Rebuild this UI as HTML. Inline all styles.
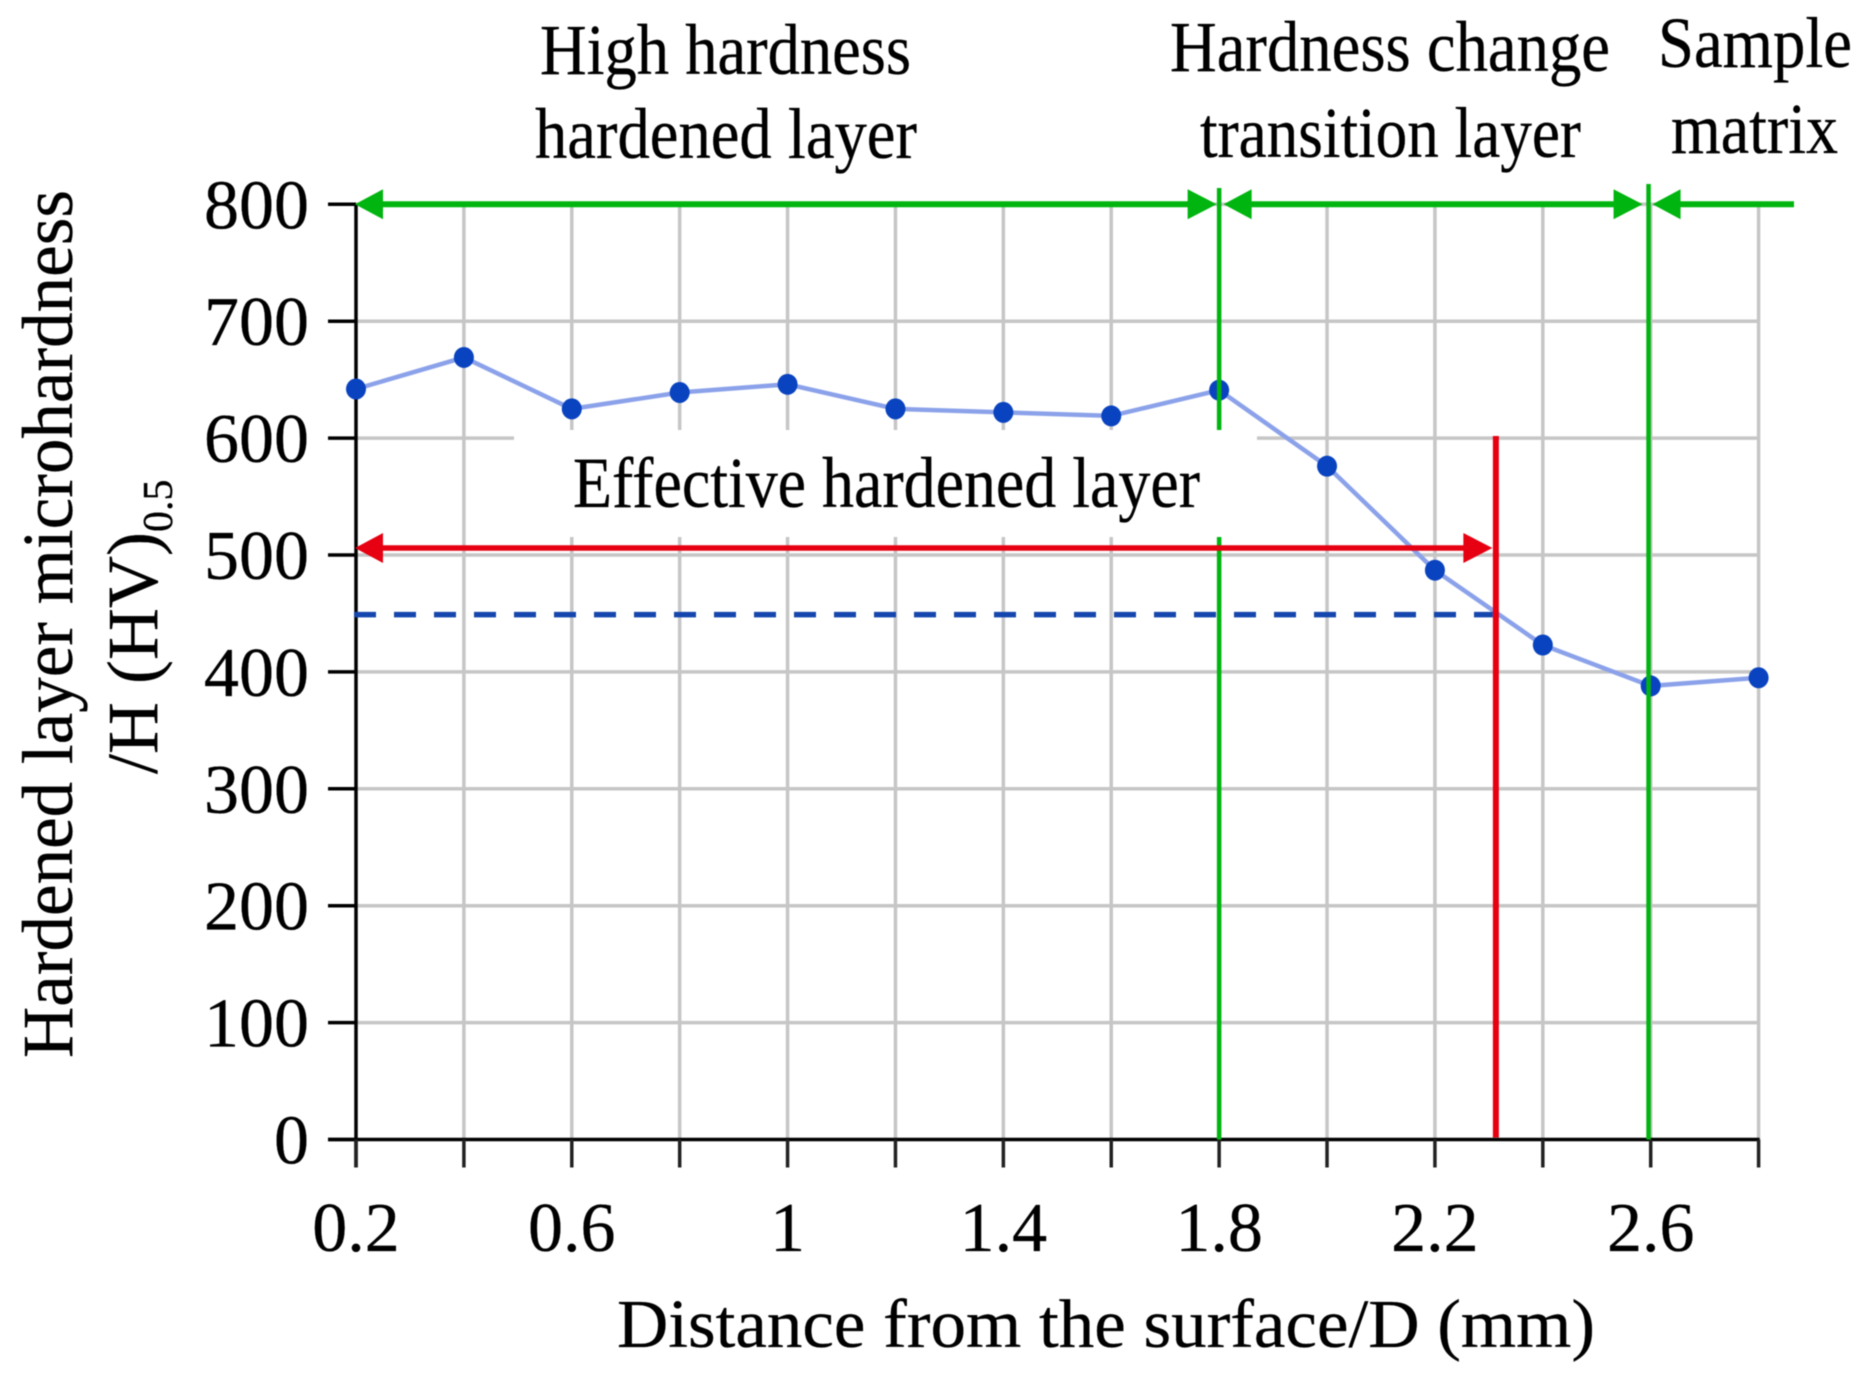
<!DOCTYPE html>
<html lang="en">
<head>
<meta charset="utf-8">
<title>Hardened layer microhardness</title>
<style>
html,body{margin:0;padding:0;background:#fff;width:1873px;height:1382px;overflow:hidden}
svg{display:block;filter:blur(0.6px)}
text{font-family:"Liberation Serif",serif;fill:#000;stroke:#000;stroke-width:0.3px}
</style>
</head>
<body>
<svg id="chart" xmlns="http://www.w3.org/2000/svg" width="1873" height="1382" viewBox="0 0 1873 1382">
  <rect x="0" y="0" width="1873" height="1382" fill="#fff"/>
  <g id="grid"></g>
  <rect x="514" y="430" width="743" height="107" fill="#fff"/>
  <g id="axes"></g>
  <g id="series"></g>
  <g id="annotations"></g>

  <text x="540" y="74" font-size="72" textLength="371" lengthAdjust="spacingAndGlyphs">High hardness</text>
  <text x="535" y="158" font-size="72" textLength="382" lengthAdjust="spacingAndGlyphs">hardened layer</text>
  <text x="1170" y="71" font-size="72" textLength="440" lengthAdjust="spacingAndGlyphs">Hardness change</text>
  <text x="1200" y="157" font-size="72" textLength="381" lengthAdjust="spacingAndGlyphs">transition layer</text>
  <text x="1658" y="67" font-size="72" textLength="194" lengthAdjust="spacingAndGlyphs">Sample</text>
  <text x="1671" y="153" font-size="72" textLength="167" lengthAdjust="spacingAndGlyphs">matrix</text>
  <text x="573" y="507" font-size="72" textLength="627" lengthAdjust="spacingAndGlyphs">Effective hardened layer</text>

  <text x="617" y="1347" font-size="69" textLength="978" lengthAdjust="spacingAndGlyphs">Distance from the surface/D (mm)</text>
  <text transform="translate(72,1058) rotate(-90)" font-size="72" textLength="868" lengthAdjust="spacingAndGlyphs">Hardened layer microhardness</text>
  <text transform="translate(157,774) rotate(-90)" font-size="72">/H (HV)<tspan font-size="42" dy="15">0.5</tspan></text>
</svg>
<script>
// Chart data
const distances = [0.2, 0.4, 0.6, 0.8, 1.0, 1.2, 1.4, 1.6, 1.8, 2.0, 2.2, 2.4, 2.6, 2.8];
const hardness = [642, 669, 625, 639, 646, 625, 622, 619, 641, 576, 487, 423, 388, 395];
const yTicks = [0, 100, 200, 300, 400, 500, 600, 700, 800];
const xTickLabels = ["0.2", "0.6", "1", "1.4", "1.8", "2.2", "2.6"];
const xTickLabelValues = [0.2, 0.6, 1.0, 1.4, 1.8, 2.2, 2.6];
const zoneBoundaries = [1.8, 2.596];
const effectiveDepth = [2.313];
const effectiveArrowHardness = [506];
const criterionHardness = [449];
const zoneArrowHardness = [800];

const NS = "http://www.w3.org/2000/svg";
const xMin = 0.2, xMax = 2.8, yMin = 0, yMax = 800;
const left = 356, right = 1758.6, top_ = 204.3, bottom = 1139.5;
function xScale(v) { return left + (v - xMin) / (xMax - xMin) * (right - left); }
function yScale(v) { return bottom - (v - yMin) / (yMax - yMin) * (bottom - top_); }
function make(tag, attrs, parent) {
  const el = document.createElementNS(NS, tag);
  for (const k in attrs) el.setAttribute(k, attrs[k]);
  parent.appendChild(el);
  return el;
}
const grid = document.getElementById("grid");
const axes = document.getElementById("axes");
const series = document.getElementById("series");
const ann = document.getElementById("annotations");
const GRID = "#c6c6c6", GREEN = "#00b50f", RED = "#e60012";

// Gridlines
distances.slice(1).forEach(function (d) {
  const el = make("line", { x1: xScale(d), x2: xScale(d), y1: yScale(yMax), y2: bottom, stroke: GRID, "stroke-width": 3.5 }, grid);
  
  
});
yTicks.slice(1).forEach(function (t) {
  const el = make("line", { x1: left, x2: right, y1: yScale(t), y2: yScale(t), stroke: GRID, "stroke-width": 3.5 }, grid);
  
  
});

// Axes and ticks
const yAxisLine = make("line", { x1: left, x2: left, y1: yScale(yMax), y2: 1167.5, stroke: "#000", "stroke-width": 3.5 }, axes);


const xAxisLine = make("line", { x1: 328, x2: right + 1, y1: bottom, y2: bottom, stroke: "#000", "stroke-width": 3.5 }, axes);


yTicks.forEach(function (t) {
  const tick = make("line", { x1: 328, x2: left, y1: yScale(t), y2: yScale(t), stroke: "#000", "stroke-width": 3.5 }, axes);
  
  
  const label = make("text", { x: 309, y: yScale(t) + 24, "text-anchor": "end", "font-size": 70 }, axes);
  
  
  label.textContent = String(t);
});
distances.forEach(function (d) {
  const tick = make("line", { x1: xScale(d), x2: xScale(d), y1: bottom, y2: 1167.5, stroke: "#222", "stroke-width": 3.5 }, axes);
  
  
});
xTickLabels.forEach(function (s, i) {
  const label = make("text", { x: xScale(xTickLabelValues[i]), y: 1251, "text-anchor": "middle", "font-size": 70 }, axes);
  
  
  label.textContent = s;
});

// Series
const pointsAttr = distances.map(function (d, i) { return xScale(d) + "," + yScale(hardness[i]); }).join(" ");
const hardnessLine = make("polyline", { points: pointsAttr, fill: "none", stroke: "#8ba2ea", "stroke-width": 4.5 }, series);


distances.forEach(function (d, i) {
  const dot = make("ellipse", { cx: xScale(d), cy: yScale(hardness[i]), rx: 10, ry: 10.5, fill: "#0a43bf" }, series);
  
  
});

// Arrow helper: tip at x, pointing in direction dir (+1 right, -1 left)
function arrowHead(x, y, dir, len, half, color) {
  const p = x + "," + y + " " + (x - dir * len) + "," + (y - half) + " " + (x - dir * len) + "," + (y + half);
  return make("polygon", { points: p, fill: color }, ann);
}
function segment(x1, y1, x2, y2, color, w) {
  return make("line", { x1: x1, y1: y1, x2: x2, y2: y2, stroke: color, "stroke-width": w }, ann);
}

// Criterion dashed line
const dashX = xScale(effectiveDepth[0]) - 3;
const dashed = segment(354, yScale(criterionHardness[0]), dashX, yScale(criterionHardness[0]), "#1446ad", 5.5);
dashed.setAttribute("stroke-dasharray", "22 18");



// Zone boundary lines (first one is broken around the label)
const zb0 = xScale(zoneBoundaries[0]), zb1 = xScale(zoneBoundaries[1]);
const b0a = segment(zb0, 188, zb0, 430, GREEN, 4.5);


const b0b = segment(zb0, 537, zb0, bottom, GREEN, 4.5);


const b1 = segment(zb1, 184, zb1, bottom, GREEN, 4.5);



// Effective depth line
const depthX = xScale(effectiveDepth[0]);
const depthLine = segment(depthX, 436, depthX, bottom - 2, RED, 6);



// Zone arrows
const gy = yScale(zoneArrowHardness[0]);
const zoneSpans = [[left - 1, zb0 - 2.5], [zb0 + 4.5, zb1 - 6], [zb1 + 4, 1794]];
zoneSpans.forEach(function (s, i) {
  const shaft = segment(s[0] + 10, gy, s[1] - (i < 2 ? 10 : 0), gy, GREEN, 6);
  
  
  const headL = arrowHead(s[0], gy, -1, 28, 15, GREEN);
  
  
  if (i < 2) {
    const headR = arrowHead(s[1], gy, 1, 29, 15, GREEN);
    
    
  }
});

// Effective layer arrow
const ry = yScale(effectiveArrowHardness[0]);
const redShaft = segment(left + 10, ry, depthX - 14, ry, RED, 5.5);


const redL = arrowHead(left - 1, ry, -1, 28, 15, RED);


const redR = arrowHead(depthX - 3.5, ry, 1, 29, 15, RED);


</script>
</body>
</html>
